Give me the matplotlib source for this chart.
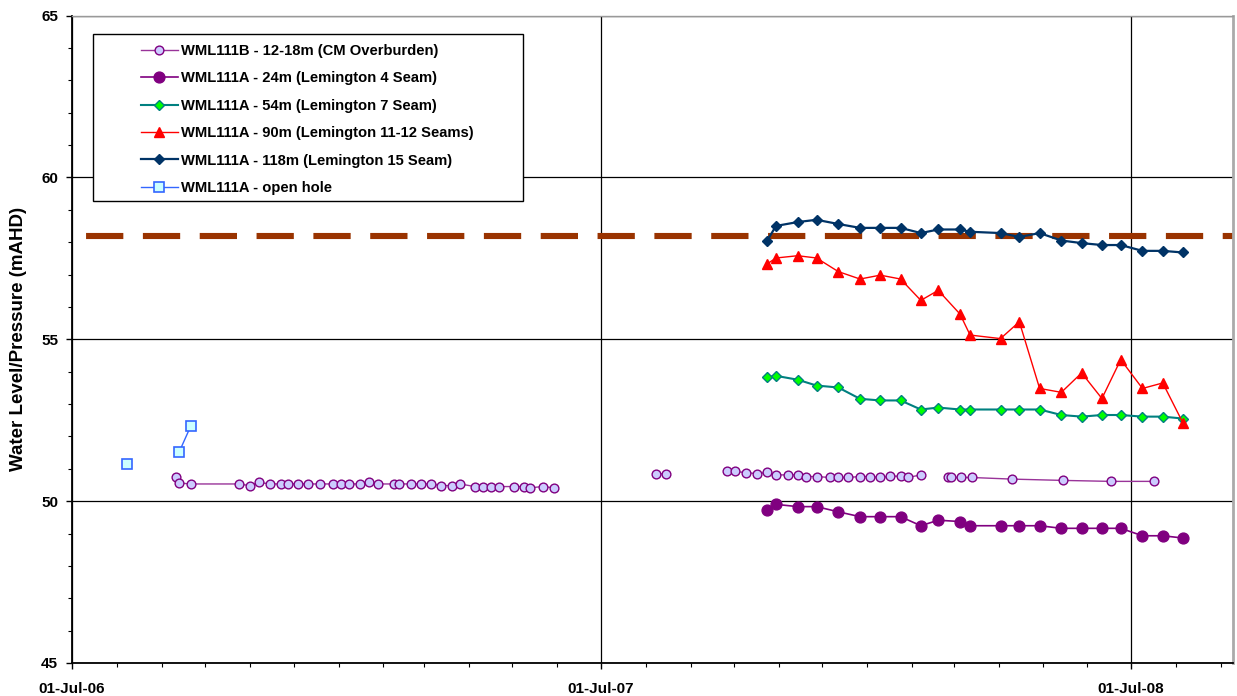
import numpy as np
import pandas as pd
import matplotlib
matplotlib.use("Agg")
import matplotlib.pyplot as plt
import matplotlib.dates as mdates
from matplotlib.patches import Rectangle
from matplotlib.ticker import MultipleLocator

plt.rcParams["font.family"] = ["Liberation Sans", "DejaVu Sans"]
plt.rcParams["font.weight"] = "bold"

# WML111B shallow piezometer (None = no reading, breaks the line)
b_dates = ["2006-09-11", "2006-09-13", "2006-09-21", "2006-10-24", "2006-11-01",
           "2006-11-07", "2006-11-15", "2006-11-22", "2006-11-27", "2006-12-04",
           "2006-12-11", "2006-12-19", "2006-12-28", "2007-01-03", "2007-01-08",
           "2007-01-16", "2007-01-22", "2007-01-28", "2007-02-08", "2007-02-12",
           "2007-02-20", "2007-02-27", "2007-03-06", "2007-03-13", "2007-03-20",
           "2007-03-26", "2007-04-05", "2007-04-11", "2007-04-16", "2007-04-22",
           "2007-05-02", "2007-05-09", "2007-05-13", "2007-05-22", "2007-05-30",
           "2007-07-01",
           "2007-08-08", "2007-08-15",
           "2007-09-01",
           "2007-09-26", "2007-10-02", "2007-10-09", "2007-10-17", "2007-10-24",
           "2007-10-30", "2007-11-07", "2007-11-14", "2007-11-20", "2007-11-27",
           "2007-12-06", "2007-12-12", "2007-12-19", "2007-12-27", "2008-01-03",
           "2008-01-10", "2008-01-17", "2008-01-24", "2008-01-29", "2008-02-07",
           "2008-02-15",
           "2008-02-26", "2008-02-28", "2008-03-06", "2008-03-13", "2008-04-10",
           "2008-05-15", "2008-06-17", "2008-07-17"]
b_level = [50.73, 50.56, 50.53, 50.53, 50.48, 50.58, 50.53, 50.53, 50.53, 50.53,
           50.53, 50.53, 50.53, 50.53, 50.53, 50.53, 50.58, 50.53, 50.53, 50.53,
           50.53, 50.53, 50.53, 50.48, 50.48, 50.53, 50.45, 50.45, 50.45, 50.45,
           50.45, 50.45, 50.41, 50.45, 50.41,
           None,
           50.84, 50.84,
           None,
           50.92, 50.92, 50.88, 50.85, 50.89, 50.81, 50.81, 50.81, 50.76, 50.76,
           50.73, 50.73, 50.73, 50.76, 50.76, 50.73, 50.77, 50.77, 50.73, 50.81,
           None,
           50.73, 50.73, 50.73, 50.73, 50.68, 50.64, 50.61, 50.61]

# WML111A vibrating wire piezometers, common reading dates
a_dates = ["2007-10-24", "2007-10-30", "2007-11-14", "2007-11-27", "2007-12-12",
           "2007-12-27", "2008-01-10", "2008-01-24", "2008-02-07", "2008-02-19",
           "2008-03-05", "2008-03-12", "2008-04-02", "2008-04-15", "2008-04-29",
           "2008-05-14", "2008-05-28", "2008-06-11", "2008-06-24", "2008-07-09",
           "2008-07-23", "2008-08-06"]
a24_level = [49.72, 49.90, 49.83, 49.83, 49.67, 49.52, 49.52, 49.52, 49.24, 49.41,
             49.37, 49.24, 49.24, 49.24, 49.24, 49.16, 49.16, 49.16, 49.16, 48.93,
             48.93, 48.86]
a54_level = [53.82, 53.87, 53.75, 53.57, 53.51, 53.16, 53.11, 53.11, 52.83, 52.89,
             52.83, 52.83, 52.83, 52.83, 52.83, 52.66, 52.61, 52.66, 52.66, 52.61,
             52.61, 52.55]
a90_level = [57.33, 57.51, 57.58, 57.51, 57.09, 56.86, 56.98, 56.86, 56.20, 56.51,
             55.78, 55.13, 55.02, 55.54, 53.48, 53.36, 53.96, 53.17, 54.37, 53.48,
             53.65, 52.41]
a118_level = [58.05, 58.50, 58.62, 58.69, 58.56, 58.44, 58.44, 58.44, 58.28, 58.39,
              58.39, 58.32, 58.28, 58.16, 58.28, 58.05, 57.97, 57.91, 57.91, 57.73,
              57.73, 57.68]

# open hole readings before the piezometers were installed
oh_dates = ["2006-08-08", "2006-08-20", "2006-09-13", "2006-09-21"]
oh_level = [51.16, None, 51.52, 52.32]

ref_level = 58.2

def series(dates, vals):
    return pd.to_datetime(dates), np.array([np.nan if v is None else v for v in vals], float)

fig = plt.figure(figsize=(12.37, 6.96), dpi=100)
ax = fig.add_axes([72 / 1237, 33 / 696, (1233 - 72) / 1237, (663 - 15.5) / 696])

ax.axhline(ref_level, color="#993300", lw=4.4, ls=(7.0, (6.1, 3.2)), zorder=2)

x, y = series(b_dates, b_level)
ax.plot(x, y, color="#993399", lw=1.0, marker="o", ms=6.3, mfc="#CCCCFF", mec="#800080",
        mew=1.0, zorder=3, label="WML111B - 12-18m (CM Overburden)")
x, y = series(a_dates, a24_level)
ax.plot(x, y, color="#800080", lw=1.2, marker="o", ms=7.8, mfc="#800080", mec="#800080",
        zorder=3, label="WML111A - 24m (Lemington 4 Seam)")
x, y = series(a_dates, a54_level)
ax.plot(x, y, color="#008080", lw=1.5, marker="D", ms=4.6, mfc="#00FF00", mec="#008080",
        mew=1.0, zorder=3, label="WML111A - 54m (Lemington 7 Seam)")
x, y = series(a_dates, a90_level)
ax.plot(x, y, color="#FF0000", lw=1.0, marker="^", ms=7.2, mfc="#FF0000", mec="#FF0000",
        zorder=3, label="WML111A - 90m (Lemington 11-12 Seams)")
x, y = series(a_dates, a118_level)
ax.plot(x, y, color="#003366", lw=1.6, marker="D", ms=5, mfc="#003366", mec="#003366",
        zorder=3, label="WML111A - 118m (Lemington 15 Seam)")
x, y = series(oh_dates, oh_level)
ax.plot(x, y, color="#3366FF", lw=1.0, marker="s", ms=7, mfc="#CCFFFF", mec="#3366FF",
        mew=1.2, zorder=3, label="WML111A - open hole")

ax.set_xlim(pd.Timestamp("2006-07-01"), pd.Timestamp("2008-09-09 12:00"))
ax.set_ylim(45, 65)
ax.yaxis.set_major_locator(MultipleLocator(5))
ax.yaxis.set_minor_locator(MultipleLocator(1))
ax.xaxis.set_major_locator(mdates.MonthLocator(bymonth=7, bymonthday=1))
ax.xaxis.set_minor_locator(mdates.MonthLocator())
ax.xaxis.set_major_formatter(mdates.DateFormatter("%d-%b-%y"))

ax.grid(True, which="major", color="black", lw=0.9, zorder=1)
ax.set_axisbelow(True)
ax.tick_params(which="major", direction="out", length=4, width=1, labelsize=11)
ax.tick_params(axis="x", which="major", pad=10)
ax.tick_params(axis="y", which="major", pad=6)
ax.tick_params(which="minor", direction="out", length=3, width=0.8)
for lab in ax.get_xticklabels() + ax.get_yticklabels():
    lab.set_fontweight("bold")

for side in ("left", "bottom"):
    ax.spines[side].set_color("black")
    ax.spines[side].set_linewidth(1.3)
ax.spines["top"].set_color("#999999")
ax.spines["top"].set_linewidth(1.0)
ax.spines["right"].set_color("#AAAAAA")
ax.spines["right"].set_linewidth(2.0)

ax.set_ylabel("Water Level/Pressure (mAHD)", fontsize=13.5, fontweight="bold")
ax.yaxis.set_label_coords((27 - 72) / (1233 - 72), 0.5)

# legend box, drawn separately so the entries sit with a wide left margin
ax.add_patch(Rectangle((93 / 1237, 1 - 201 / 696), 430 / 1237, 167 / 696,
                       transform=fig.transFigure, fc="white", ec="black", lw=1.0,
                       zorder=5, clip_on=False))
leg = ax.legend(loc="upper left", bbox_to_anchor=(141 / 1237, 1 - 44 / 696),
                bbox_transform=fig.transFigure, frameon=False, borderpad=0,
                borderaxespad=0, handlelength=2.5, handletextpad=0.25,
                labelspacing=0.91, prop={"size": 10.6, "weight": "bold"})
leg.set_zorder(6)

fig.savefig("out.png", dpi=100)
